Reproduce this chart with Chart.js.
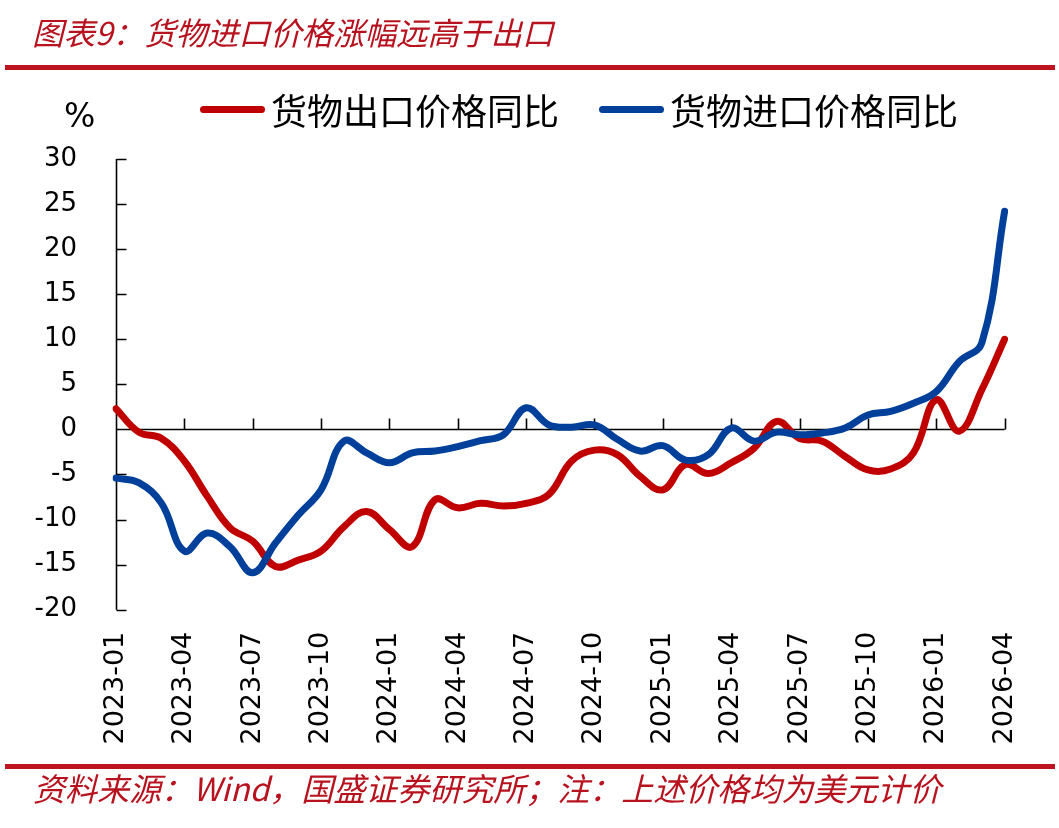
<!DOCTYPE html>
<html>
<head>
<meta charset="utf-8">
<script src="https://cdn.jsdelivr.net/npm/chart.js@4.4.1/dist/chart.umd.min.js"></script>
<style>
  html,body{margin:0;padding:0;background:#fff;}
  body{width:1059px;height:828px;overflow:hidden;position:relative;font-family:"DejaVu Sans",sans-serif;}
  #wrap{position:absolute;left:0;top:0;width:1059px;height:828px;}
  #title{position:absolute;left:32px;top:11px;font-style:italic;font-size:31.5px;font-family:"Noto Sans CJK SC",sans-serif;color:#B8121E;white-space:nowrap;line-height:40px;}
  .rule{position:absolute;left:5px;width:1050px;height:5px;background:#BE1420;}
  #foot{position:absolute;left:33px;top:767px;font-style:italic;font-size:32px;font-family:"Noto Sans CJK SC",sans-serif;color:#B8121E;white-space:nowrap;line-height:40px;}
  .lg{position:absolute;top:88px;height:42px;display:flex;align-items:center;font-family:"Noto Sans CJK SC",sans-serif;font-size:36px;color:#000;white-space:nowrap;}
  .lg i{display:inline-block;width:65px;height:7px;border-radius:4px;margin-right:6px;}
  #pct{position:absolute;left:64px;top:97px;font-size:33px;font-family:"DejaVu Sans",sans-serif;color:#000;line-height:38px;}
</style>
</head>
<body>
<div id="wrap"><canvas id="c" width="1059" height="828"></canvas></div>
<div id="title">图表9：货物进口价格涨幅远高于出口</div>
<div class="rule" style="top:65px"></div>
<div id="pct">%</div>
<div class="lg" style="left:200px"><i style="background:#C00000"></i>货物出口价格同比</div>
<div class="lg" style="left:599px"><i style="background:#00409A"></i>货物进口价格同比</div>
<div class="rule" style="top:764px"></div>
<div id="foot">资料来源：Wind，国盛证券研究所；注：上述价格均为美元计价</div>
<script>
const months = [
  '2023-01','2023-02','2023-03','2023-04','2023-05','2023-06','2023-07','2023-08','2023-09','2023-10','2023-11','2023-12',
  '2024-01','2024-02','2024-03','2024-04','2024-05','2024-06','2024-07','2024-08','2024-09','2024-10','2024-11','2024-12',
  '2025-01','2025-02','2025-03','2025-04','2025-05','2025-06','2025-07','2025-08','2025-09','2025-10','2025-11','2025-12',
  '2026-01','2026-02','2026-03','2026-04'
];
const exportYoY = [
  2.3, -0.3, -1.0, -3.5, -7.4, -10.9, -12.4, -15.2, -14.5, -13.5, -10.8, -9.1,
  -11.1, -13.0, -7.8, -8.7, -8.2, -8.5, -8.2, -7.2, -3.5, -2.3, -2.8, -5.2,
  -6.7, -3.9, -4.9, -3.7, -2.1, 0.9, -1.0, -1.3, -3.0, -4.5, -4.4, -2.6,
  3.3, -0.2, 4.4, 10.0
];
const importYoY = [
  -5.4, -5.9, -8.2, -13.5, -11.5, -13.0, -15.9, -12.6, -9.5, -6.7, -1.3, -2.6,
  -3.7, -2.6, -2.4, -1.9, -1.25, -0.6, 2.4, 0.5, 0.25, 0.5, -1.1, -2.4,
  -1.8, -3.4, -2.8, 0.15, -1.3, -0.3, -0.6, -0.4, 0.15, 1.6, 2.0, 2.9,
  4.2, 7.5, 9.6, 24.2
];
const yMin = -20, yMax = 30, yStep = 5;
const labelEvery = 3;

const axisDeco = {
  id: 'axisDeco',
  beforeDatasetsDraw(chart) {
    const {ctx, scales: {x, y}, chartArea} = chart;
    const y0 = Math.round(y.getPixelForValue(0)) + 0.5;
    const left = Math.round(chartArea.left) + 0.5;
    ctx.save();
    ctx.strokeStyle = '#000';
    ctx.lineWidth = 1.6;
    ctx.beginPath();
    ctx.moveTo(left, y.getPixelForValue(yMax));
    ctx.lineTo(left, y.getPixelForValue(yMin));
    y.ticks.forEach(t => {
      const py = Math.round(y.getPixelForValue(t.value)) + 0.5;
      ctx.moveTo(left, py);
      ctx.lineTo(left + 10, py);
    });
    ctx.moveTo(left, y0);
    ctx.lineTo(x.getPixelForValue(months.length - 1), y0);
    for (let i = labelEvery; i < months.length; i += labelEvery) {
      const px = Math.round(x.getPixelForValue(i)) + 0.5;
      ctx.moveTo(px, y0);
      ctx.lineTo(px, y0 - 11);
    }
    ctx.stroke();
    ctx.restore();
  }
};

new Chart(document.getElementById('c'), {
  type: 'line',
  data: {
    labels: months,
    datasets: [
      {label: '货物出口价格同比', data: exportYoY, borderColor: '#C00000', backgroundColor: '#C00000', order: 1},
      {label: '货物进口价格同比', data: importYoY, borderColor: '#00409A', backgroundColor: '#00409A', order: 0}
    ]
  },
  options: {
    responsive: false,
    animation: false,
    devicePixelRatio: 1,
    layout: {padding: {top: 159, right: 53, bottom: 0, left: 0}},
    elements: {
      line: {borderWidth: 7, tension: 0.4, borderCapStyle: 'round', borderJoinStyle: 'round', fill: false},
      point: {radius: 0, hoverRadius: 0}
    },
    plugins: {legend: {display: false}, tooltip: {enabled: false}, title: {display: false}},
    scales: {
      x: {
        type: 'category',
        offset: false,
        grid: {display: false, drawTicks: false},
        border: {display: false},
        afterFit(s) { s.height = 828 - 609.7; },
        ticks: {
          autoSkip: false, minRotation: 90, maxRotation: 90, padding: 22,
          color: '#000', font: {family: 'DejaVu Sans', size: 27},
          callback(v, i) { return i % labelEvery === 0 ? months[i] : ''; }
        }
      },
      y: {
        min: yMin, max: yMax,
        grid: {display: false, drawTicks: false},
        border: {display: false},
        afterFit(s) { s.width = 116; },
        ticks: {stepSize: yStep, padding: 39, color: '#000', font: {family: 'DejaVu Sans', size: 26}}
      }
    }
  },
  plugins: [axisDeco]
});
</script>
</body>
</html>
